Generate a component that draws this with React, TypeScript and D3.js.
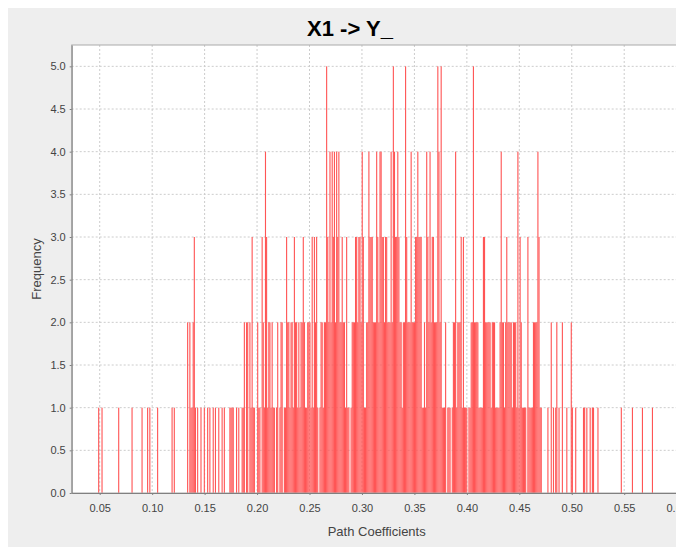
import React, { useEffect, useRef } from 'react';
import * as d3 from 'd3';

const TITLE = 'X1 -> Y_';
const X_LABEL = 'Path Coefficients';
const Y_LABEL = 'Frequency';
const X_TICKS = [0.05, 0.1, 0.15, 0.2, 0.25, 0.3, 0.35, 0.4, 0.45, 0.5, 0.55, 0.6];
const Y_TICKS = [0, 0.5, 1, 1.5, 2, 2.5, 3, 3.5, 4, 4.5, 5];
const X_DOMAIN = [0.0233, 0.6048];
const Y_DOMAIN = [0, 5.25];

// histogram bins: left edge of bin i = BIN_START + i * BIN_WIDTH
const BIN_START = 0.0485;
const BIN_WIDTH = 0.00106;
const COUNTS = [
  1, 0, 0, 1, 0, 0, 0, 0, 0, 0,
  0, 0, 0, 0, 0, 0, 0, 0, 1, 0,
  0, 0, 0, 0, 0, 0, 0, 0, 0, 0,
  1, 0, 0, 0, 0, 0, 0, 0, 0, 1,
  0, 0, 0, 0, 1, 0, 1, 0, 0, 0,
  0, 0, 0, 1, 0, 0, 0, 0, 0, 0,
  0, 0, 0, 0, 0, 0, 1, 0, 1, 0,
  0, 0, 0, 0, 0, 0, 0, 0, 0, 0,
  2, 0, 2, 1, 1, 2, 3, 1, 0, 1,
  0, 0, 1, 0, 0, 1, 0, 0, 1, 0,
  1, 0, 0, 1, 0, 1, 0, 0, 1, 0,
  0, 1, 0, 1, 0, 0, 0, 0, 1, 1,
  1, 1, 0, 0, 1, 0, 1, 0, 0, 1,
  1, 2, 0, 2, 2, 0, 2, 1, 3, 1,
  1, 0, 0, 2, 1, 1, 0, 3, 2, 1,
  4, 3, 1, 2, 2, 1, 2, 1, 1, 0,
  1, 2, 0, 1, 2, 2, 0, 1, 1, 3,
  2, 2, 1, 2, 2, 1, 3, 2, 2, 1,
  2, 1, 2, 2, 3, 2, 1, 1, 2, 2,
  2, 1, 3, 1, 3, 2, 3, 1, 0, 1,
  2, 2, 1, 2, 2, 5, 3, 2, 4, 2,
  4, 3, 4, 2, 4, 3, 4, 2, 2, 3,
  2, 2, 1, 3, 1, 1, 0, 1, 2, 2,
  2, 3, 3, 2, 3, 3, 2, 4, 3, 1,
  1, 2, 2, 4, 3, 3, 3, 2, 2, 2,
  4, 3, 2, 4, 4, 3, 3, 2, 3, 3,
  2, 2, 2, 4, 2, 5, 4, 3, 3, 4,
  3, 2, 2, 1, 2, 2, 5, 3, 2, 2,
  2, 4, 2, 2, 2, 3, 3, 4, 3, 3,
  3, 1, 1, 2, 1, 4, 3, 2, 4, 2,
  3, 3, 2, 2, 2, 5, 4, 2, 5, 1,
  1, 1, 2, 0, 1, 1, 1, 0, 1, 2,
  2, 4, 1, 2, 2, 2, 3, 1, 3, 1,
  1, 1, 0, 1, 1, 2, 2, 5, 2, 2,
  2, 2, 1, 1, 1, 1, 3, 3, 2, 2,
  2, 2, 2, 1, 2, 2, 2, 1, 1, 1,
  1, 2, 4, 2, 2, 1, 2, 3, 2, 2,
  2, 2, 1, 2, 2, 2, 1, 4, 1, 3,
  2, 1, 1, 1, 1, 0, 3, 1, 1, 1,
  1, 2, 2, 2, 2, 4, 3, 1, 1, 0,
  0, 0, 0, 0, 1, 0, 0, 2, 0, 1,
  0, 1, 2, 0, 1, 0, 0, 2, 0, 0,
  0, 1, 0, 0, 0, 2, 1, 0, 0, 1,
  0, 0, 0, 0, 0, 0, 1, 1, 0, 1,
  0, 0, 1, 0, 1, 1, 0, 0, 0, 1,
  0, 0, 0, 0, 0, 0, 0, 0, 0, 0,
  0, 0, 0, 0, 0, 0, 0, 0, 0, 0,
  1, 0, 0, 0, 0, 0, 0, 0, 0, 0,
  1, 0, 0, 0, 0, 0, 0, 0, 0, 1,
  0, 0, 0, 0, 0, 0, 0, 0, 1, 0,
];

const C = { bg: '#eeeeee', bar: '#ff5555', grid: '#cccccc', axis: '#808080', outline: '#aaaaaa', text: '#444444' };
const FONT = '"Liberation Sans Narrow", "Liberation Sans", Arial, sans-serif';

export default function App() {
  const ref = useRef<SVGSVGElement>(null);
  useEffect(() => {
    const W = 676, H = 539;
    const M = { top: 37, right: 2.3, bottom: 54, left: 63.7 };
    const w = W - M.left - M.right, h = H - M.top - M.bottom;
    const svg = d3.select(ref.current);
    svg.selectAll('*').remove();
    svg.append('rect').attr('width', W).attr('height', H).attr('fill', C.bg);
    svg.append('text').text(TITLE).attr('x', 342).attr('y', 28).attr('text-anchor', 'middle')
      .attr('font-family', FONT).attr('font-weight', 700).attr('font-size', 22).attr('fill', '#000');

    const g = svg.append('g').attr('transform', `translate(${M.left},${M.top})`);
    const x = d3.scaleLinear().domain(X_DOMAIN).range([0, w]);
    const y = d3.scaleLinear().domain(Y_DOMAIN).range([h, 0]);

    g.append('rect').attr('width', w).attr('height', h).attr('fill', '#fff');
    g.append('g').selectAll('line').data(X_TICKS).join('line')
      .attr('x1', d => x(d)).attr('x2', d => x(d)).attr('y1', 0).attr('y2', h)
      .attr('stroke', C.grid).attr('stroke-dasharray', '2,2');
    g.append('g').selectAll('line').data(Y_TICKS.slice(1)).join('line')
      .attr('y1', d => y(d)).attr('y2', d => y(d)).attr('x1', 0).attr('x2', w)
      .attr('stroke', C.grid).attr('stroke-dasharray', '2,2');

    const bins = COUNTS.map((c, i) => ({ x0: BIN_START + i * BIN_WIDTH, x1: BIN_START + (i + 1) * BIN_WIDTH, c })).filter(b => b.c > 0);
    g.append('g').selectAll('rect').data(bins).join('rect')
      .attr('x', d => x(d.x0)).attr('width', d => x(d.x1) - x(d.x0))
      .attr('y', d => y(d.c)).attr('height', d => y(0) - y(d.c)).attr('fill', C.bar);

    g.append('rect').attr('width', w).attr('height', h).attr('fill', 'none').attr('stroke', C.outline);

    const styleAxis = (a: any) => {
      a.select('.domain').attr('stroke', C.axis);
      a.selectAll('.tick line').attr('stroke', C.axis);
      a.selectAll('text').attr('fill', C.text).attr('font-size', 11).attr('font-family', FONT);
    };
    g.append('g').attr('transform', `translate(0,${h})`)
      .call(d3.axisBottom(x).tickValues(X_TICKS).tickFormat(d3.format('.2f')).tickSizeInner(2).tickSizeOuter(0).tickPadding(9))
      .call(styleAxis);
    g.append('g')
      .call(d3.axisLeft(y).tickValues(Y_TICKS).tickFormat(d3.format('.1f')).tickSizeInner(2).tickSizeOuter(0).tickPadding(4))
      .call(styleAxis);

    svg.append('text').text(X_LABEL).attr('x', M.left + w / 2).attr('y', 528).attr('text-anchor', 'middle')
      .attr('font-family', FONT).attr('font-size', 13).attr('fill', C.text);
    svg.append('text').text(Y_LABEL).attr('transform', `translate(33,${M.top + h / 2}) rotate(-90)`).attr('text-anchor', 'middle')
      .attr('font-family', FONT).attr('font-size', 13).attr('fill', C.text);
  }, []);
  return <svg ref={ref} width={676} height={539} style={{ display: 'block' }} />;
}
